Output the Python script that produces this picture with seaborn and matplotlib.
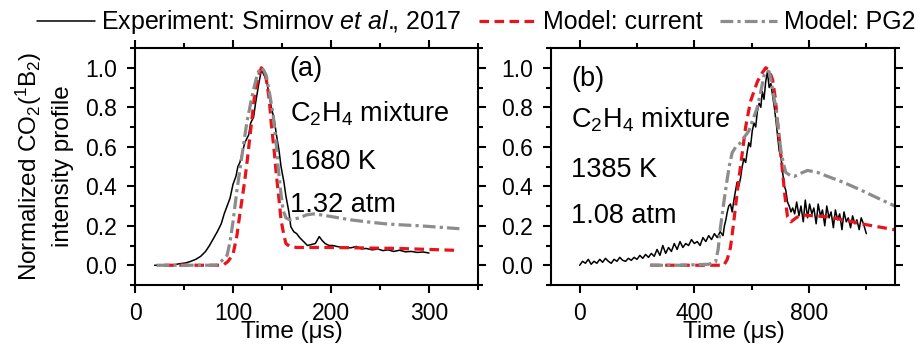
import matplotlib
matplotlib.use("Agg")
import matplotlib.pyplot as plt
import seaborn as sns
from matplotlib.ticker import MultipleLocator

sns.set_style("ticks")
plt.rcParams['font.family'] = ['Liberation Sans', 'DejaVu Sans']
plt.rcParams['mathtext.fontset'] = 'custom'
plt.rcParams['mathtext.rm'] = 'Liberation Sans'
plt.rcParams['mathtext.it'] = 'Liberation Sans:italic'
for k in ['text.color', 'axes.labelcolor', 'xtick.color', 'ytick.color', 'axes.edgecolor']:
    plt.rcParams[k] = 'black'

# ---- Panel (a): 1680 K ----
a_exp_t = [20, 30, 40, 46, 52, 57, 62, 67, 72, 76, 80, 84, 88, 91, 94, 97, 100, 103, 105, 107,
           110, 112, 114, 116, 118, 121, 123, 126, 129, 131, 134, 137, 139, 142, 144, 147, 149,
           152, 154, 157, 159, 162, 165, 168, 172, 176, 180, 184, 188, 191, 194, 198, 202, 206,
           210, 215, 220, 226, 231, 236, 242, 248, 253, 258, 264, 270, 276, 282, 288, 294, 300]
a_exp_y = [0.0, 0.0, 0.003, 0.008, 0.012, 0.02, 0.03, 0.045, 0.07, 0.1, 0.135, 0.17, 0.21, 0.26,
           0.30, 0.34, 0.41, 0.45, 0.50, 0.52, 0.58, 0.62, 0.64, 0.66, 0.72, 0.75, 0.82, 0.91,
           0.99, 0.97, 0.94, 0.86, 0.80, 0.74, 0.67, 0.58, 0.50, 0.42, 0.35, 0.27, 0.195, 0.17,
           0.16, 0.14, 0.12, 0.10, 0.105, 0.11, 0.145, 0.125, 0.11, 0.10, 0.10, 0.095, 0.092,
           0.09, 0.088, 0.095, 0.083, 0.085, 0.078, 0.082, 0.074, 0.078, 0.07, 0.076, 0.068,
           0.07, 0.065, 0.067, 0.062]
a_cur_t = [30, 60, 90, 95, 100, 104, 107, 110, 112, 115, 117, 120, 122, 126, 129, 132, 134, 137,
           139, 142, 144, 147, 149, 152, 154, 158, 165, 180, 202, 240, 270, 300, 331]
a_cur_y = [0.0, 0.0, 0.0, 0.02, 0.055, 0.15, 0.26, 0.36, 0.43, 0.55, 0.64, 0.77, 0.86, 0.96, 1.0,
           0.98, 0.94, 0.84, 0.72, 0.58, 0.47, 0.33, 0.23, 0.15, 0.11, 0.095, 0.09, 0.09, 0.09,
           0.087, 0.085, 0.08, 0.075]
a_pg2_t = [22, 50, 83, 88, 94, 97, 100, 104, 109, 114, 118, 121, 125, 128, 131, 134, 138, 141,
           144, 146, 149, 151, 154, 158, 163, 168, 175, 182, 190, 202, 220, 236, 255, 270, 290,
           304, 331]
a_pg2_y = [0.0, 0.0, 0.0, 0.02, 0.05, 0.12, 0.22, 0.38, 0.55, 0.72, 0.82, 0.89, 0.97, 1.0, 0.99,
           0.96, 0.85, 0.76, 0.62, 0.50, 0.36, 0.28, 0.24, 0.23, 0.235, 0.24, 0.255, 0.26, 0.255,
           0.245, 0.23, 0.22, 0.21, 0.205, 0.2, 0.195, 0.185]

# ---- Panel (b): 1385 K ----
b_exp_t = [0, 10, 20, 30, 40, 50, 60, 70, 80, 90, 100, 110, 120, 130, 140, 150, 160, 170, 180,
           190, 200, 210, 220, 230, 240, 250, 260, 270, 280, 290, 300, 310, 320, 330, 340, 350,
           360, 370, 380, 390, 400, 410, 420, 430, 440, 450, 460, 470, 480, 490, 500, 505, 510,
           515, 520, 526, 532, 538, 544, 549, 555, 561, 567, 573, 579, 585, 590, 596, 602, 608,
           614, 620, 626, 632, 637, 643, 649, 655, 661, 667, 673, 679, 685, 690, 696, 702, 708,
           714, 719, 725, 731, 737, 743, 750, 757, 765, 772, 780, 787, 795, 802, 810, 817, 825,
           832, 840, 847, 855, 862, 870, 877, 885, 892, 900, 907, 915, 922, 930, 937, 945, 952,
           960, 967, 975, 982, 990, 1000]
b_exp_y = [0.0, 0.02, 0.01, 0.03, 0.005, 0.02, 0.01, 0.03, 0.015, 0.035, 0.02, 0.01, 0.03, 0.02,
           0.04, 0.025, 0.02, 0.035, 0.025, 0.04, 0.03, 0.05, 0.035, 0.055, 0.04, 0.06, 0.045,
           0.08, 0.05, 0.1, 0.06, 0.09, 0.07, 0.11, 0.08, 0.12, 0.09, 0.11, 0.1, 0.13, 0.11, 0.12,
           0.1, 0.14, 0.12, 0.15, 0.13, 0.16, 0.14, 0.17, 0.15, 0.2, 0.23, 0.27, 0.3, 0.31, 0.27,
           0.33, 0.38, 0.42, 0.40, 0.44, 0.50, 0.54, 0.52, 0.58, 0.62, 0.60, 0.68, 0.72, 0.70,
           0.78, 0.82, 0.80, 0.88, 0.84, 0.93, 0.98, 0.90, 0.92, 0.86, 0.80, 0.73, 0.66, 0.58,
           0.55, 0.47, 0.40, 0.38, 0.32, 0.30, 0.27, 0.29, 0.26, 0.32, 0.25, 0.30, 0.22, 0.33,
           0.24, 0.31, 0.26, 0.29, 0.21, 0.31, 0.25, 0.28, 0.20, 0.30, 0.24, 0.27, 0.19, 0.28,
           0.23, 0.26, 0.18, 0.27, 0.22, 0.24, 0.19, 0.25, 0.21, 0.23, 0.18, 0.24, 0.21, 0.16]
b_cur_t = [246, 350, 450, 503, 515, 526, 535, 544, 552, 561, 570, 579, 588, 596, 608, 620, 635,
           649, 660, 673, 682, 690, 699, 708, 716, 725, 737, 755, 772, 820, 865, 920, 982, 1040,
           1099]
b_cur_y = [0.0, 0.0, 0.0, 0.0, 0.03, 0.09, 0.19, 0.30, 0.40, 0.50, 0.60, 0.70, 0.77, 0.83, 0.88,
           0.93, 0.97, 1.0, 0.99, 0.94, 0.85, 0.73, 0.60, 0.47, 0.35, 0.245, 0.22, 0.24, 0.255,
           0.25, 0.245, 0.23, 0.21, 0.195, 0.18]
b_pg2_t = [246, 350, 450, 474, 483, 491, 503, 514, 523, 532, 545, 561, 575, 590, 605, 620, 632,
           643, 652, 661, 672, 684, 693, 702, 710, 719, 734, 749, 770, 795, 830, 865, 920, 982,
           1040, 1099]
b_pg2_y = [0.0, 0.0, 0.005, 0.017, 0.08, 0.19, 0.32, 0.43, 0.51, 0.57, 0.60, 0.62, 0.65, 0.68,
           0.74, 0.80, 0.88, 0.96, 0.985, 0.98, 0.90, 0.80, 0.69, 0.58, 0.52, 0.47, 0.455, 0.45,
           0.465, 0.48, 0.47, 0.45, 0.42, 0.38, 0.34, 0.30]

legend_labels = ["Experiment: Smirnov $\\mathit{et\\ al.}\\!\\!\\mathrm{,}$ 2017",
                 "Model: current", "Model: PG2"]
y_ticks = [0.0, 0.2, 0.4, 0.6, 0.8, 1.0]
y_ticklabels = ["0.0", "0.2", "0.4", "0.6", "0.8", "1.0"]

RED = "#e8141c"
GREY = "#8c8c8c"
TICK_FS = 16.5
ANN_FS = 19.5

fig = plt.figure(figsize=(9.19, 3.46), dpi=100)
axA = fig.add_axes([135/919, 61/346, 343/919, 237/346])
axB = fig.add_axes([551/919, 61/346, 344/919, 237/346])

def draw(ax, et, ey, ct, cy, pt, py):
    sns.lineplot(x=et, y=ey, ax=ax, color="black", lw=1.1, estimator=None, sort=False,
                 label=legend_labels[0])
    sns.lineplot(x=ct, y=cy, ax=ax, color=RED, lw=2.3, ls=(0, (3, 1.7)), estimator=None,
                 sort=False, label=legend_labels[1])
    sns.lineplot(x=pt, y=py, ax=ax, color=GREY, lw=2.3, ls=(0, (4, 1.3, 1.0, 1.3)),
                 estimator=None, sort=False, label=legend_labels[2])
    ax.get_legend().remove()
    ax.set_ylim(-0.1, 1.1)
    ax.set_yticks(y_ticks)
    ax.set_yticklabels(y_ticklabels)
    ax.yaxis.set_minor_locator(MultipleLocator(0.1))
    ax.tick_params(which="both", direction="out", top=True, right=True, width=1.5,
                   labelsize=TICK_FS, color="black", labelcolor="black")
    ax.tick_params(which="major", length=6)
    ax.tick_params(axis="y", which="major", pad=7)
    ax.tick_params(axis="x", which="major", pad=6)
    ax.tick_params(which="minor", length=3.5)
    for s in ax.spines.values():
        s.set_linewidth(1.5)
        s.set_color("black")
    ax.set_xlabel("Time (μs)", fontsize=17.5)
    ax.xaxis.get_label().set_va("top")

draw(axA, a_exp_t, a_exp_y, a_cur_t, a_cur_y, a_pg2_t, a_pg2_y)
axA.set_xlim(0, 350)
axA.set_xticks([0, 100, 200, 300])
axA.xaxis.set_minor_locator(MultipleLocator(50))
axA.xaxis.set_label_coords(0.457, -0.15)
axA.set_ylabel("Normalized CO$_2$($^1$B$_2$)\nintensity profile", fontsize=17.5,
               labelpad=8, linespacing=1.45)
axA.text(158, 0.957, "(a)", fontsize=ANN_FS, va="baseline")
axA.text(158, 0.729, "C$_2$H$_4$ mixture", fontsize=ANN_FS, va="baseline")
axA.text(158, 0.487, "1680 K", fontsize=ANN_FS, va="baseline")
axA.text(158, 0.271, "1.32 atm", fontsize=ANN_FS, va="baseline")

draw(axB, b_exp_t, b_exp_y, b_cur_t, b_cur_y, b_pg2_t, b_pg2_y)
axB.set_xlim(-100, 1100)
axB.set_xticks([0, 400, 800])
axB.xaxis.set_minor_locator(MultipleLocator(200))
axB.xaxis.set_label_coords(0.532, -0.15)
axB.set_ylabel("")
axB.text(-29, 0.908, "(b)", fontsize=ANN_FS, va="baseline")
axB.text(-29, 0.70, "C$_2$H$_4$ mixture", fontsize=ANN_FS, va="baseline")
axB.text(-29, 0.446, "1385 K", fontsize=ANN_FS, va="baseline")
axB.text(-29, 0.215, "1.08 atm", fontsize=ANN_FS, va="baseline")

h, l = axA.get_legend_handles_labels()
fig.legend(h, l, loc="lower left", bbox_to_anchor=(37/919, 0.895, 878/919, 0.08), ncol=3,
           mode="expand", frameon=False, fontsize=18, handlelength=2.3, handletextpad=0.25,
           columnspacing=0.3, borderaxespad=0, borderpad=0)

fig.savefig("out.png", dpi=100)
